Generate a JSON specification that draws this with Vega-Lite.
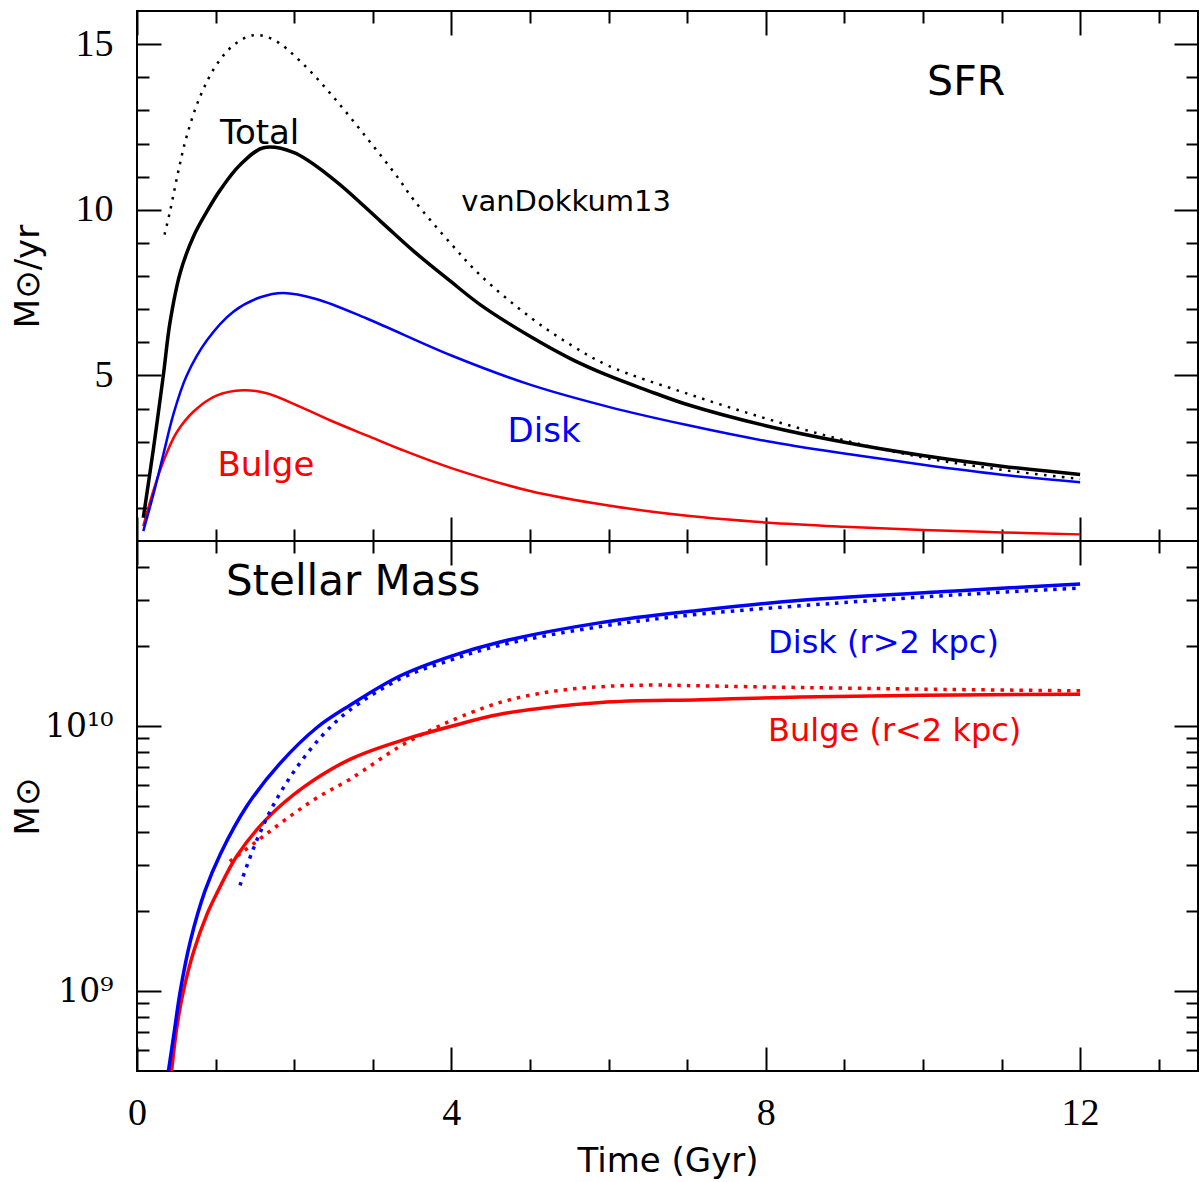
{
  "$schema": "https://vega.github.io/schema/vega-lite/v6.json",
  "autosize": {"type": "pad"},
  "padding": {"left": 10, "top": 9, "right": 0, "bottom": 0},
  "background": "white",
  "spacing": 0,
  "bounds": "flush",
  "datasets": {
    "sfr": [
      {"t": 0.08, "sfr": 0.7, "s": "Total"},
      {"t": 0.21, "sfr": 2.8, "s": "Total"},
      {"t": 0.335, "sfr": 5.0, "s": "Total"},
      {"t": 0.42, "sfr": 6.6, "s": "Total"},
      {"t": 0.55, "sfr": 8.1, "s": "Total"},
      {"t": 0.72, "sfr": 9.2, "s": "Total"},
      {"t": 0.89, "sfr": 9.95, "s": "Total"},
      {"t": 1.06, "sfr": 10.6, "s": "Total"},
      {"t": 1.31, "sfr": 11.35, "s": "Total"},
      {"t": 1.61, "sfr": 11.87, "s": "Total"},
      {"t": 1.99, "sfr": 11.73, "s": "Total"},
      {"t": 2.5, "sfr": 10.92, "s": "Total"},
      {"t": 3.1, "sfr": 9.65, "s": "Total"},
      {"t": 3.52, "sfr": 8.75, "s": "Total"},
      {"t": 4.0, "sfr": 7.82, "s": "Total"},
      {"t": 4.37, "sfr": 7.13, "s": "Total"},
      {"t": 5.0, "sfr": 6.18, "s": "Total"},
      {"t": 5.52, "sfr": 5.5, "s": "Total"},
      {"t": 6.0, "sfr": 4.99, "s": "Total"},
      {"t": 6.49, "sfr": 4.55, "s": "Total"},
      {"t": 7.0, "sfr": 4.12, "s": "Total"},
      {"t": 8.0, "sfr": 3.48, "s": "Total"},
      {"t": 9.0, "sfr": 2.98, "s": "Total"},
      {"t": 10.0, "sfr": 2.58, "s": "Total"},
      {"t": 11.0, "sfr": 2.26, "s": "Total"},
      {"t": 12.0, "sfr": 2.01, "s": "Total"},

      {"t": 0.35, "sfr": 9.25, "s": "vanDokkum13"},
      {"t": 0.42, "sfr": 9.95, "s": "vanDokkum13"},
      {"t": 0.52, "sfr": 11.1, "s": "vanDokkum13"},
      {"t": 0.63, "sfr": 12.2, "s": "vanDokkum13"},
      {"t": 0.8, "sfr": 13.4, "s": "vanDokkum13"},
      {"t": 1.01, "sfr": 14.37, "s": "vanDokkum13"},
      {"t": 1.23, "sfr": 14.97, "s": "vanDokkum13"},
      {"t": 1.48, "sfr": 15.27, "s": "vanDokkum13"},
      {"t": 1.74, "sfr": 15.13, "s": "vanDokkum13"},
      {"t": 2.08, "sfr": 14.48, "s": "vanDokkum13"},
      {"t": 2.5, "sfr": 13.4, "s": "vanDokkum13"},
      {"t": 2.93, "sfr": 12.15, "s": "vanDokkum13"},
      {"t": 3.31, "sfr": 11.0, "s": "vanDokkum13"},
      {"t": 3.52, "sfr": 10.3, "s": "vanDokkum13"},
      {"t": 4.0, "sfr": 8.96, "s": "vanDokkum13"},
      {"t": 4.37, "sfr": 8.02, "s": "vanDokkum13"},
      {"t": 5.0, "sfr": 6.76, "s": "vanDokkum13"},
      {"t": 5.52, "sfr": 5.92, "s": "vanDokkum13"},
      {"t": 6.0, "sfr": 5.29, "s": "vanDokkum13"},
      {"t": 7.0, "sfr": 4.45, "s": "vanDokkum13"},
      {"t": 8.0, "sfr": 3.7, "s": "vanDokkum13"},
      {"t": 9.0, "sfr": 3.04, "s": "vanDokkum13"},
      {"t": 10.0, "sfr": 2.52, "s": "vanDokkum13"},
      {"t": 11.0, "sfr": 2.15, "s": "vanDokkum13"},
      {"t": 12.0, "sfr": 1.87, "s": "vanDokkum13"},

      {"t": 0.08, "sfr": 0.3, "s": "Disk"},
      {"t": 0.21, "sfr": 1.42, "s": "Disk"},
      {"t": 0.335, "sfr": 2.61, "s": "Disk"},
      {"t": 0.46, "sfr": 3.8, "s": "Disk"},
      {"t": 0.63, "sfr": 4.98, "s": "Disk"},
      {"t": 0.89, "sfr": 6.06, "s": "Disk"},
      {"t": 1.23, "sfr": 6.93, "s": "Disk"},
      {"t": 1.57, "sfr": 7.36, "s": "Disk"},
      {"t": 1.86, "sfr": 7.49, "s": "Disk"},
      {"t": 2.29, "sfr": 7.3, "s": "Disk"},
      {"t": 2.93, "sfr": 6.71, "s": "Disk"},
      {"t": 4.0, "sfr": 5.6, "s": "Disk"},
      {"t": 5.0, "sfr": 4.72, "s": "Disk"},
      {"t": 6.0, "sfr": 4.05, "s": "Disk"},
      {"t": 7.0, "sfr": 3.5, "s": "Disk"},
      {"t": 8.0, "sfr": 3.02, "s": "Disk"},
      {"t": 9.0, "sfr": 2.64, "s": "Disk"},
      {"t": 10.0, "sfr": 2.3, "s": "Disk"},
      {"t": 11.0, "sfr": 2.0, "s": "Disk"},
      {"t": 12.0, "sfr": 1.77, "s": "Disk"},

      {"t": 0.08, "sfr": 0.45, "s": "Bulge"},
      {"t": 0.21, "sfr": 1.53, "s": "Bulge"},
      {"t": 0.335, "sfr": 2.4, "s": "Bulge"},
      {"t": 0.5, "sfr": 3.26, "s": "Bulge"},
      {"t": 0.72, "sfr": 3.91, "s": "Bulge"},
      {"t": 1.01, "sfr": 4.39, "s": "Bulge"},
      {"t": 1.35, "sfr": 4.55, "s": "Bulge"},
      {"t": 1.65, "sfr": 4.46, "s": "Bulge"},
      {"t": 2.08, "sfr": 4.05, "s": "Bulge"},
      {"t": 2.5, "sfr": 3.6, "s": "Bulge"},
      {"t": 2.93, "sfr": 3.18, "s": "Bulge"},
      {"t": 3.35, "sfr": 2.77, "s": "Bulge"},
      {"t": 4.0, "sfr": 2.2, "s": "Bulge"},
      {"t": 5.0, "sfr": 1.51, "s": "Bulge"},
      {"t": 6.0, "sfr": 1.07, "s": "Bulge"},
      {"t": 7.0, "sfr": 0.76, "s": "Bulge"},
      {"t": 8.0, "sfr": 0.56, "s": "Bulge"},
      {"t": 9.0, "sfr": 0.43, "s": "Bulge"},
      {"t": 10.0, "sfr": 0.33, "s": "Bulge"},
      {"t": 11.0, "sfr": 0.26, "s": "Bulge"},
      {"t": 12.0, "sfr": 0.2, "s": "Bulge"}
    ],
    "mass": [
      {"t": 0.4, "m": 5.0e8, "s": "Disk"},
      {"t": 0.48, "m": 7.24e8, "s": "Disk"},
      {"t": 0.55, "m": 1.0e9, "s": "Disk"},
      {"t": 0.68, "m": 1.55e9, "s": "Disk"},
      {"t": 0.865, "m": 2.39e9, "s": "Disk"},
      {"t": 1.06, "m": 3.29e9, "s": "Disk"},
      {"t": 1.4, "m": 5.01e9, "s": "Disk"},
      {"t": 1.82, "m": 7.24e9, "s": "Disk"},
      {"t": 2.29, "m": 9.89e9, "s": "Disk"},
      {"t": 2.71, "m": 1.2e10, "s": "Disk"},
      {"t": 3.35, "m": 1.55e10, "s": "Disk"},
      {"t": 4.0, "m": 1.84e10, "s": "Disk"},
      {"t": 4.62, "m": 2.08e10, "s": "Disk"},
      {"t": 5.9, "m": 2.46e10, "s": "Disk"},
      {"t": 7.17, "m": 2.74e10, "s": "Disk"},
      {"t": 8.45, "m": 2.99e10, "s": "Disk"},
      {"t": 10.57, "m": 3.26e10, "s": "Disk"},
      {"t": 12.0, "m": 3.44e10, "s": "Disk"},

      {"t": 1.31, "m": 2.51e9, "s": "Disk obs"},
      {"t": 1.52, "m": 3.69e9, "s": "Disk obs"},
      {"t": 1.74, "m": 5.07e9, "s": "Disk obs"},
      {"t": 2.03, "m": 6.97e9, "s": "Disk obs"},
      {"t": 2.37, "m": 9.31e9, "s": "Disk obs"},
      {"t": 2.69, "m": 1.14e10, "s": "Disk obs"},
      {"t": 3.35, "m": 1.51e10, "s": "Disk obs"},
      {"t": 4.0, "m": 1.78e10, "s": "Disk obs"},
      {"t": 4.62, "m": 2.02e10, "s": "Disk obs"},
      {"t": 5.9, "m": 2.38e10, "s": "Disk obs"},
      {"t": 7.17, "m": 2.65e10, "s": "Disk obs"},
      {"t": 8.87, "m": 2.91e10, "s": "Disk obs"},
      {"t": 10.57, "m": 3.15e10, "s": "Disk obs"},
      {"t": 12.0, "m": 3.32e10, "s": "Disk obs"},

      {"t": 0.44, "m": 5.0e8, "s": "Bulge"},
      {"t": 0.51, "m": 7.41e8, "s": "Bulge"},
      {"t": 0.59, "m": 1.0e9, "s": "Bulge"},
      {"t": 0.72, "m": 1.41e9, "s": "Bulge"},
      {"t": 0.89, "m": 1.95e9, "s": "Bulge"},
      {"t": 1.015, "m": 2.34e9, "s": "Bulge"},
      {"t": 1.27, "m": 3.24e9, "s": "Bulge"},
      {"t": 1.65, "m": 4.47e9, "s": "Bulge"},
      {"t": 2.12, "m": 5.89e9, "s": "Bulge"},
      {"t": 2.71, "m": 7.5e9, "s": "Bulge"},
      {"t": 3.35, "m": 8.81e9, "s": "Bulge"},
      {"t": 4.0, "m": 1.0e10, "s": "Bulge"},
      {"t": 4.62, "m": 1.11e10, "s": "Bulge"},
      {"t": 5.9, "m": 1.23e10, "s": "Bulge"},
      {"t": 7.17, "m": 1.26e10, "s": "Bulge"},
      {"t": 8.45, "m": 1.29e10, "s": "Bulge"},
      {"t": 10.0, "m": 1.31e10, "s": "Bulge"},
      {"t": 12.0, "m": 1.32e10, "s": "Bulge"},

      {"t": 1.18, "m": 3.09e9, "s": "Bulge obs"},
      {"t": 1.33, "m": 3.33e9, "s": "Bulge obs"},
      {"t": 1.61, "m": 3.85e9, "s": "Bulge obs"},
      {"t": 1.95, "m": 4.58e9, "s": "Bulge obs"},
      {"t": 2.29, "m": 5.37e9, "s": "Bulge obs"},
      {"t": 2.71, "m": 6.31e9, "s": "Bulge obs"},
      {"t": 3.35, "m": 8.41e9, "s": "Bulge obs"},
      {"t": 3.77, "m": 9.77e9, "s": "Bulge obs"},
      {"t": 4.0, "m": 1.05e10, "s": "Bulge obs"},
      {"t": 4.62, "m": 1.23e10, "s": "Bulge obs"},
      {"t": 5.26, "m": 1.35e10, "s": "Bulge obs"},
      {"t": 5.9, "m": 1.41e10, "s": "Bulge obs"},
      {"t": 6.53, "m": 1.43e10, "s": "Bulge obs"},
      {"t": 7.17, "m": 1.42e10, "s": "Bulge obs"},
      {"t": 8.45, "m": 1.4e10, "s": "Bulge obs"},
      {"t": 10.0, "m": 1.38e10, "s": "Bulge obs"},
      {"t": 12.0, "m": 1.36e10, "s": "Bulge obs"}
    ],
    "sfr_labels": [
      {"t": 10.55, "v": 13.47, "label": "SFR"},
      {"t": 1.56, "v": 11.98, "label": "Total"},
      {"t": 5.46, "v": 9.96, "label": "vanDokkum13"},
      {"t": 5.18, "v": 2.98, "label": "Disk"},
      {"t": 1.64, "v": 1.96, "label": "Bulge"}
    ],
    "mass_labels": [
      {"t": 2.75, "m": 3.13e10, "label": "Stellar Mass"},
      {"t": 8.03, "m": 1.89e10, "label": "Disk (r>2 kpc)"},
      {"t": 8.03, "m": 8.79e9, "label": "Bulge (r<2 kpc)"}
    ]
  },
  "config": {
    "view": {"stroke": "black", "strokeWidth": 2},
    "axis": {
      "grid": false,
      "domain": false,
      "tickColor": "black",
      "tickWidth": 2,
      "labelColor": "black",
      "labelFont": "Liberation Serif",
      "labelFontSize": 38,
      "labelFlush": false,
      "labelOverlap": false,
      "labelBound": false,
      "titleFont": "DejaVu Sans",
      "titleFontSize": 34,
      "titleFontWeight": "normal",
      "titleColor": "black"
    },
    "text": {"font": "DejaVu Sans", "baseline": "alphabetic"}
  },
  "vconcat": [
    {
      "width": 1061,
      "height": 530,
      "resolve": {"axis": {"x": "independent", "y": "independent"}},
      "layer": [
        {
          "data": {"name": "sfr"},
          "transform": [{"filter": "datum.s === 'Bulge'"}],
          "mark": {"type": "line", "color": "#ff0000", "strokeWidth": 2.5, "interpolate": "catmull-rom", "clip": true},
          "encoding": {
            "x": {"field": "t", "type": "quantitative", "scale": {"domain": [0, 13.5], "nice": false, "zero": false},
                  "axis": {"orient": "bottom", "values": [0, 4, 8, 12], "labels": false, "title": null, "tickSize": -24}},
            "y": {"field": "sfr", "type": "quantitative", "scale": {"domain": [0, 16], "nice": false},
                  "axis": {"orient": "left", "values": [5, 10, 15], "labels": false, "title": null, "tickSize": -24}}
          }
        },
        {
          "data": {"name": "sfr"},
          "transform": [{"filter": "datum.s === 'Disk'"}],
          "mark": {"type": "line", "color": "#0000ff", "strokeWidth": 2.5, "interpolate": "catmull-rom", "clip": true},
          "encoding": {
            "x": {"field": "t", "type": "quantitative",
                  "axis": {"orient": "bottom", "values": [1, 2, 3, 5, 6, 7, 9, 10, 11, 13], "labels": false, "title": null, "tickSize": -12}},
            "y": {"field": "sfr", "type": "quantitative",
                  "axis": {"orient": "left", "values": [1, 2, 3, 4, 6, 7, 8, 9, 11, 12, 13, 14], "labels": false, "title": null, "tickSize": -12}}
          }
        },
        {
          "data": {"name": "sfr"},
          "transform": [{"filter": "datum.s === 'Total'"}],
          "mark": {"type": "line", "color": "black", "strokeWidth": 3.5, "interpolate": "catmull-rom", "clip": true},
          "encoding": {
            "x": {"field": "t", "type": "quantitative",
                  "axis": {"orient": "top", "values": [0, 4, 8, 12], "labels": false, "title": null, "tickSize": -24}},
            "y": {"field": "sfr", "type": "quantitative",
                  "axis": {"orient": "right", "values": [5, 10, 15], "labels": false, "title": null, "tickSize": -24}}
          }
        },
        {
          "data": {"name": "sfr"},
          "transform": [{"filter": "datum.s === 'vanDokkum13'"}],
          "mark": {"type": "line", "color": "black", "strokeWidth": 2.5, "strokeDash": [2.5, 6.5], "interpolate": "catmull-rom", "clip": true},
          "encoding": {
            "x": {"field": "t", "type": "quantitative",
                  "axis": {"orient": "top", "values": [1, 2, 3, 5, 6, 7, 9, 10, 11, 13], "labels": false, "title": null, "tickSize": -12}},
            "y": {"field": "sfr", "type": "quantitative",
                  "axis": {"orient": "right", "values": [1, 2, 3, 4, 6, 7, 8, 9, 11, 12, 13, 14], "labels": false, "title": null, "tickSize": -12}}
          }
        },
        {
          "data": {"name": "sfr_labels"},
          "transform": [{"filter": "datum.label === 'SFR'"}],
          "mark": {"type": "text", "fontSize": 41, "align": "center", "color": "black"},
          "encoding": {
            "x": {"field": "t", "type": "quantitative", "axis": null},
            "y": {"field": "v", "type": "quantitative",
                  "axis": {"orient": "left", "values": [5, 10, 15], "ticks": false, "labelPadding": 24, "format": "d",
                           "title": "M⊙/yr", "titleX": -99, "titleBaseline": "alphabetic"}},
            "text": {"field": "label"}
          }
        },
        {
          "data": {"name": "sfr_labels"},
          "transform": [{"filter": "datum.label === 'Total'"}],
          "mark": {"type": "text", "fontSize": 34, "align": "center", "color": "black"},
          "encoding": {
            "x": {"field": "t", "type": "quantitative", "axis": null},
            "y": {"field": "v", "type": "quantitative", "axis": null},
            "text": {"field": "label"}
          }
        },
        {
          "data": {"name": "sfr_labels"},
          "transform": [{"filter": "datum.label === 'vanDokkum13'"}],
          "mark": {"type": "text", "fontSize": 29, "align": "center", "color": "black"},
          "encoding": {
            "x": {"field": "t", "type": "quantitative", "axis": null},
            "y": {"field": "v", "type": "quantitative", "axis": null},
            "text": {"field": "label"}
          }
        },
        {
          "data": {"name": "sfr_labels"},
          "transform": [{"filter": "datum.label === 'Disk'"}],
          "mark": {"type": "text", "fontSize": 34, "align": "center", "color": "#0000ff"},
          "encoding": {
            "x": {"field": "t", "type": "quantitative", "axis": null},
            "y": {"field": "v", "type": "quantitative", "axis": null},
            "text": {"field": "label"}
          }
        },
        {
          "data": {"name": "sfr_labels"},
          "transform": [{"filter": "datum.label === 'Bulge'"}],
          "mark": {"type": "text", "fontSize": 34, "align": "center", "color": "#ff0000"},
          "encoding": {
            "x": {"field": "t", "type": "quantitative", "axis": null},
            "y": {"field": "v", "type": "quantitative", "axis": null},
            "text": {"field": "label"}
          }
        }
      ]
    },
    {
      "width": 1061,
      "height": 530,
      "resolve": {"axis": {"x": "independent", "y": "independent"}},
      "layer": [
        {
          "data": {"name": "mass"},
          "transform": [{"filter": "datum.s === 'Bulge'"}],
          "mark": {"type": "line", "color": "#ff0000", "strokeWidth": 3.5, "interpolate": "catmull-rom", "clip": true},
          "encoding": {
            "x": {"field": "t", "type": "quantitative", "scale": {"domain": [0, 13.5], "nice": false, "zero": false},
                  "axis": {"orient": "bottom", "values": [0, 4, 8, 12], "labels": false, "title": null, "tickSize": -24}},
            "y": {"field": "m", "type": "quantitative", "scale": {"type": "log", "domain": [5e8, 5e10], "nice": false},
                  "axis": {"orient": "left", "values": [1e9, 1e10], "labels": false, "title": null, "tickSize": -24}}
          }
        },
        {
          "data": {"name": "mass"},
          "transform": [{"filter": "datum.s === 'Disk'"}],
          "mark": {"type": "line", "color": "#0000ff", "strokeWidth": 3.5, "interpolate": "catmull-rom", "clip": true},
          "encoding": {
            "x": {"field": "t", "type": "quantitative",
                  "axis": {"orient": "bottom", "values": [1, 2, 3, 5, 6, 7, 9, 10, 11, 13], "labels": false, "title": null, "tickSize": -12}},
            "y": {"field": "m", "type": "quantitative",
                  "axis": {"orient": "left", "values": [6e8, 7e8, 8e8, 9e8, 2e9, 3e9, 4e9, 5e9, 6e9, 7e9, 8e9, 9e9, 2e10, 3e10, 4e10], "labels": false, "title": null, "tickSize": -12}}
          }
        },
        {
          "data": {"name": "mass"},
          "transform": [{"filter": "datum.s === 'Bulge obs'"}],
          "mark": {"type": "line", "color": "#ff0000", "strokeWidth": 3.5, "strokeDash": [3.5, 6], "interpolate": "catmull-rom", "clip": true},
          "encoding": {
            "x": {"field": "t", "type": "quantitative",
                  "axis": {"orient": "top", "values": [0, 4, 8, 12], "labels": false, "title": null, "tickSize": -24}},
            "y": {"field": "m", "type": "quantitative",
                  "axis": {"orient": "right", "values": [1e9, 1e10], "labels": false, "title": null, "tickSize": -24}}
          }
        },
        {
          "data": {"name": "mass"},
          "transform": [{"filter": "datum.s === 'Disk obs'"}],
          "mark": {"type": "line", "color": "#0000ff", "strokeWidth": 3.5, "strokeDash": [3.5, 6], "interpolate": "catmull-rom", "clip": true},
          "encoding": {
            "x": {"field": "t", "type": "quantitative",
                  "axis": {"orient": "top", "values": [1, 2, 3, 5, 6, 7, 9, 10, 11, 13], "labels": false, "title": null, "tickSize": -12}},
            "y": {"field": "m", "type": "quantitative",
                  "axis": {"orient": "right", "values": [6e8, 7e8, 8e8, 9e8, 2e9, 3e9, 4e9, 5e9, 6e9, 7e9, 8e9, 9e9, 2e10, 3e10, 4e10], "labels": false, "title": null, "tickSize": -12}}
          }
        },
        {
          "data": {"name": "mass_labels"},
          "transform": [{"filter": "datum.label === 'Stellar Mass'"}],
          "mark": {"type": "text", "fontSize": 42, "align": "center", "color": "black"},
          "encoding": {
            "x": {"field": "t", "type": "quantitative",
                  "axis": {"orient": "bottom", "values": [0, 4, 8, 12], "ticks": false, "labelPadding": 23, "format": "d",
                           "title": "Time (Gyr)", "titleY": 100, "titleBaseline": "alphabetic"}},
            "y": {"field": "m", "type": "quantitative",
                  "axis": {"orient": "left", "values": [1e9, 1e10], "ticks": false, "labelPadding": 24,
                           "labelFont": "DejaVu Serif", "labelFontSize": 33,
                           "labelExpr": "datum.value < 5e9 ? '10⁹' : '10¹⁰'",
                           "title": "M⊙", "titleX": -99, "titleBaseline": "alphabetic"}},
            "text": {"field": "label"}
          }
        },
        {
          "data": {"name": "mass_labels"},
          "transform": [{"filter": "datum.label === 'Disk (r>2 kpc)'"}],
          "mark": {"type": "text", "fontSize": 32, "align": "left", "color": "#0000ff"},
          "encoding": {
            "x": {"field": "t", "type": "quantitative", "axis": null},
            "y": {"field": "m", "type": "quantitative", "axis": null},
            "text": {"field": "label"}
          }
        },
        {
          "data": {"name": "mass_labels"},
          "transform": [{"filter": "datum.label === 'Bulge (r<2 kpc)'"}],
          "mark": {"type": "text", "fontSize": 32, "align": "left", "color": "#ff0000"},
          "encoding": {
            "x": {"field": "t", "type": "quantitative", "axis": null},
            "y": {"field": "m", "type": "quantitative", "axis": null},
            "text": {"field": "label"}
          }
        }
      ]
    }
  ]
}
